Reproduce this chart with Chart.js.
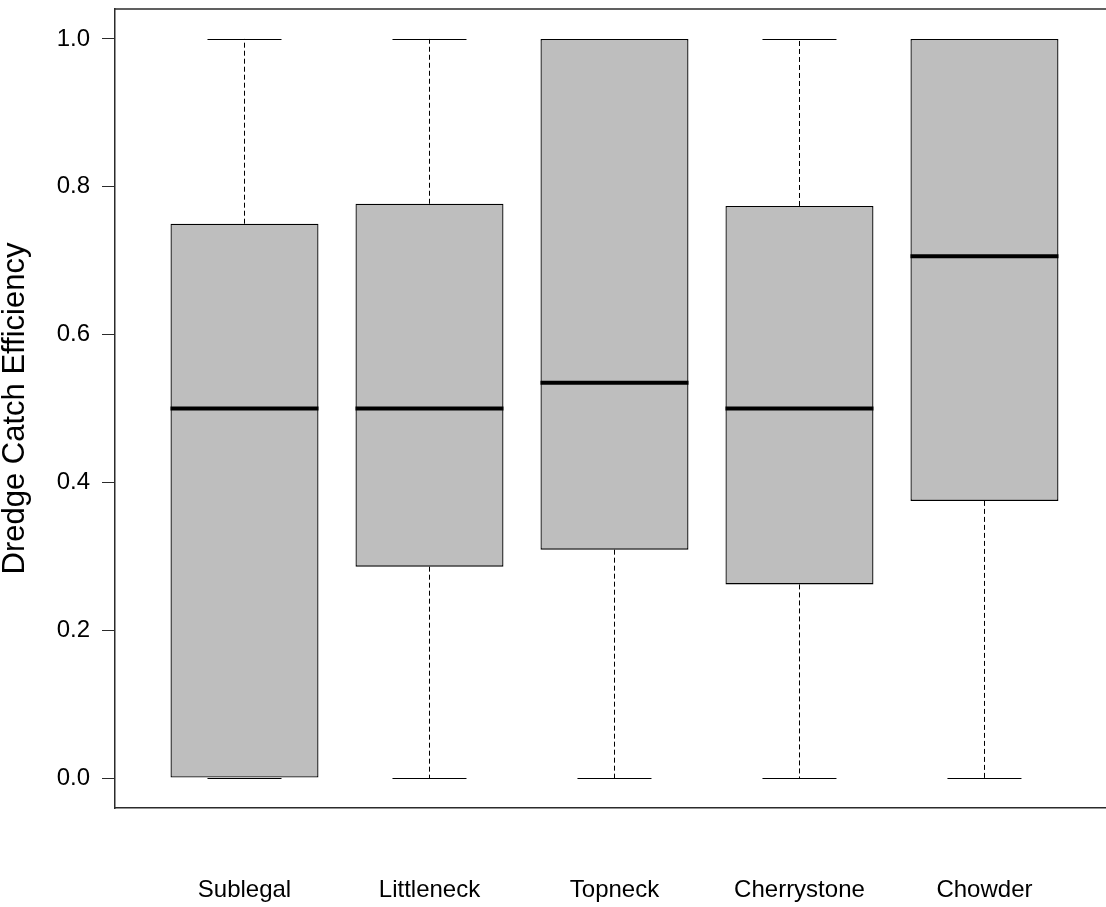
<!DOCTYPE html>
<html>
<head>
<meta charset="utf-8">
<script src="https://cdn.jsdelivr.net/npm/chart.js@4/dist/chart.umd.min.js"></script>
<style>
  html, body { margin: 0; padding: 0; background: #ffffff; overflow: hidden; }
  #chart { display: block; }
</style>
</head>
<body>
<canvas id="chart" width="1106" height="907"></canvas>
<script>
// Size classes and their catch-efficiency summaries
const categories = ['Sublegal', 'Littleneck', 'Topneck', 'Cherrystone', 'Chowder'];
const whiskerLow  = [0, 0, 0, 0, 0];
const lowerQuart  = [0, 0.286, 0.309, 0.262, 0.375];
const medians     = [0.5, 0.5, 0.535, 0.5, 0.706];
const upperQuart  = [0.75, 0.777, 1.0, 0.774, 1.0];
const whiskerHigh = [1, 1, 1, 1, 1];
const yTicks = [0, 0.2, 0.4, 0.6, 0.8, 1.0];

const positions = categories.map((c, i) => i + 1);
const boxWidth = 0.8;   // in category units
const capWidth = 0.4;

const INK = '#000000';
const AXIS = '#2b2b2b';
const FONT = "'Liberation Sans', Arial, sans-serif";

// Whiskers (dashed stems + caps) behind the boxes, medians and frame on top
const boxplotExtras = {
  id: 'boxplotExtras',
  beforeDatasetsDraw(chart) {
    const { ctx, scales: { x, y } } = chart;
    ctx.save();
    ctx.strokeStyle = INK;
    ctx.lineWidth = 1;
    positions.forEach((p, i) => {
      const cx = Math.round(x.getPixelForValue(p)) + 0.5;
      // stems
      ctx.setLineDash([5, 3]);
      ctx.beginPath();
      ctx.moveTo(cx, y.getPixelForValue(upperQuart[i]));
      ctx.lineTo(cx, y.getPixelForValue(whiskerHigh[i]));
      ctx.moveTo(cx, y.getPixelForValue(lowerQuart[i]));
      ctx.lineTo(cx, y.getPixelForValue(whiskerLow[i]));
      ctx.stroke();
      // caps
      ctx.setLineDash([]);
      ctx.lineWidth = 1.2;
      const xl = x.getPixelForValue(p - capWidth / 2);
      const xr = x.getPixelForValue(p + capWidth / 2);
      ctx.beginPath();
      const yh = Math.round(y.getPixelForValue(whiskerHigh[i])) + 0.5;
      const yl = Math.round(y.getPixelForValue(whiskerLow[i])) + 0.5;
      ctx.moveTo(xl, yh); ctx.lineTo(xr, yh);
      ctx.moveTo(xl, yl); ctx.lineTo(xr, yl);
      ctx.stroke();
      ctx.lineWidth = 1;
    });
    ctx.restore();
  },
  afterDatasetsDraw(chart) {
    const { ctx, chartArea, scales: { x, y } } = chart;
    ctx.save();
    ctx.strokeStyle = '#000000';
    ctx.lineWidth = 4;
    ctx.lineCap = 'butt';
    positions.forEach((p, i) => {
      const ym = y.getPixelForValue(medians[i]);
      ctx.beginPath();
      ctx.moveTo(x.getPixelForValue(p - boxWidth / 2), ym);
      ctx.lineTo(x.getPixelForValue(p + boxWidth / 2), ym);
      ctx.stroke();
    });
    // top edge of the plot frame
    ctx.strokeStyle = AXIS;
    ctx.lineWidth = 1.5;
    ctx.beginPath();
    ctx.moveTo(chartArea.left, chartArea.top);
    ctx.lineTo(chartArea.right, chartArea.top);
    ctx.stroke();
    ctx.restore();
  }
};

new Chart(document.getElementById('chart'), {
  type: 'bar',
  data: {
    datasets: [{
      data: positions.map((p, i) => ({ x: p, y: [lowerQuart[i], upperQuart[i]] })),
      backgroundColor: '#bebebe',
      borderColor: INK,
      borderWidth: 1.3,
      borderSkipped: false,
      categoryPercentage: boxWidth,
      barPercentage: 1
    }]
  },
  options: {
    responsive: false,
    animation: false,
    devicePixelRatio: 1,
    layout: { padding: { top: 9, right: 0, bottom: 0, left: 0 } },
    plugins: {
      legend: { display: false },
      tooltip: { enabled: false }
    },
    scales: {
      x: {
        type: 'linear',
        offset: false,
        min: 0.3,
        max: 5.657,
        afterBuildTicks(scale) { scale.ticks = positions.map(v => ({ value: v })); },
        afterFit(scale) {
          scale.height = 99;
          scale.paddingLeft = 0;
          scale.paddingRight = 0;
        },
        grid: { display: false, drawTicks: false, offset: false },
        border: { display: true, color: AXIS, width: 1.5 },
        ticks: {
          padding: 68,
          autoSkip: false,
          maxRotation: 0,
          color: '#000000',
          font: { family: FONT, size: 24 },
          callback: (v) => categories[v - 1] ?? ''
        }
      },
      y: {
        min: -0.0405,
        max: 1.0405,
        afterBuildTicks(scale) { scale.ticks = yTicks.map(v => ({ value: v })); },
        afterFit(scale) {
          scale.width = 115;
          scale.paddingTop = 0;
          scale.paddingBottom = 0;
        },
        grid: {
          display: true,
          drawOnChartArea: false,
          drawTicks: true,
          tickLength: 13,
          color: AXIS,
          lineWidth: 1
        },
        border: { display: true, color: AXIS, width: 1.5 },
        ticks: {
          padding: 12,
          color: '#000000',
          font: { family: FONT, size: 24 },
          callback: (v) => Number(v).toFixed(1)
        },
        title: {
          display: true,
          text: 'Dredge Catch Efficiency',
          color: '#000000',
          font: { family: FONT, size: 31, lineHeight: 1 },
          padding: { top: 0, bottom: 0 }
        }
      }
    }
  },
  plugins: [boxplotExtras]
});
</script>
</body>
</html>
